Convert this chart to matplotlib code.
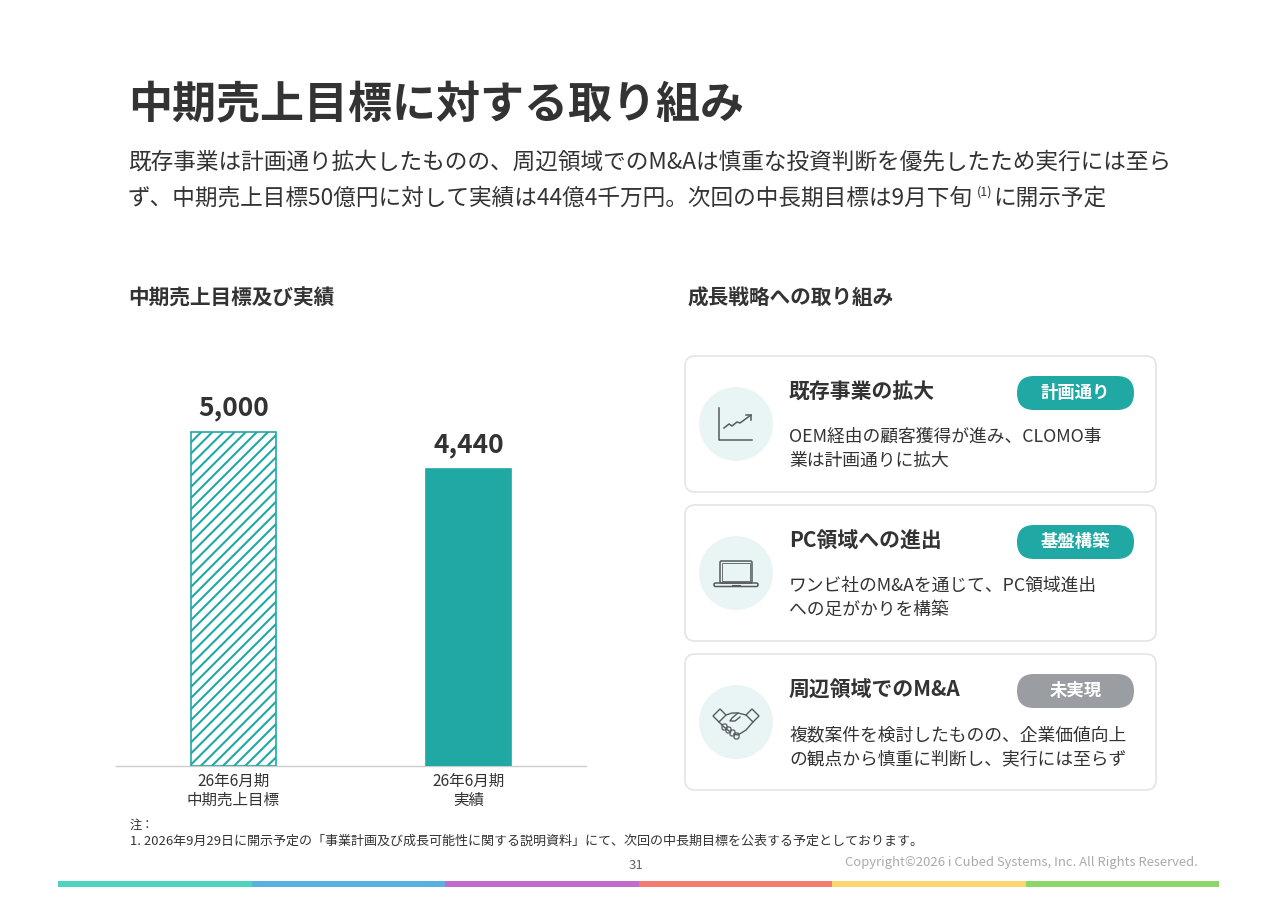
import matplotlib
matplotlib.use("Agg")
import matplotlib.pyplot as plt
from matplotlib.patches import FancyBboxPatch, Circle, Rectangle, Polygon

plt.rcParams['font.family'] = ['Noto Sans CJK JP', 'DejaVu Sans']
plt.rcParams['hatch.linewidth'] = 1.5

# ---------------- data ----------------
title = "中期売上目標に対する取り組み"
subtitle_l1 = "既存事業は計画通り拡大したものの、周辺領域でのM&Aは慎重な投資判断を優先したため実行には至ら"
subtitle_l2a = "ず、中期売上目標50億円に対して実績は44億4千万円。次回の中長期目標は9月下旬"
subtitle_sup = "(1)"
subtitle_l2b = "に開示予定"
left_header = "中期売上目標及び実績"
right_header = "成長戦略への取り組み"

categories = ["26年6月期\n中期売上目標", "26年6月期\n実績"]
values = [5000, 4440]

card_titles = ["既存事業の拡大", "PC領域への進出", "周辺領域でのM&A"]
card_badges = ["計画通り", "基盤構築", "未実現"]
card_texts = [
    ["OEM経由の顧客獲得が進み、CLOMO事", "業は計画通りに拡大"],
    ["ワンビ社のM&Aを通じて、PC領域進出", "への足がかりを構築"],
    ["複数案件を検討したものの、企業価値向上", "の観点から慎重に判断し、実行には至らず"],
]
note_head = "注："
note_line = "1. 2026年9月29日に開示予定の「事業計画及び成長可能性に関する説明資料」にて、次回の中長期目標を公表する予定としております。"
page_no = "31"
copyright_txt = "Copyright©2026 i Cubed Systems, Inc. All Rights Reserved."
stripe_colors = ["#4dd4c0", "#5ab0e0", "#c26bc8", "#f47a70", "#f9d76e", "#8cd66a"]

TEAL = "#20a8a4"
GRAY_BADGE = "#9a9ea3"
DARK = "#333333"

plt.rcParams['hatch.color'] = TEAL

fig = plt.figure(figsize=(12.8, 9.05), dpi=100)
fig.patch.set_facecolor("white")

bg = fig.add_axes([0, 0, 1, 1])
bg.set_xlim(0, 1280)
bg.set_ylim(905, 0)
bg.axis("off")

# title & subtitle
bg.text(128, 105, title, fontsize=31.7, fontweight="bold", color=DARK, va="center", ha="left")
bg.text(128, 162, subtitle_l1, fontsize=16.3, color=DARK, va="center", ha="left")
t2a = bg.text(128, 198, subtitle_l2a, fontsize=16.3, color=DARK, va="center", ha="left")
fig.canvas.draw()
r = fig.canvas.get_renderer()
x_end = t2a.get_window_extent(r).x1
tsup = bg.text(x_end + 4, 192, subtitle_sup, fontsize=9, color=DARK, va="center", ha="left")
fig.canvas.draw()
x_end2 = tsup.get_window_extent(r).x1
bg.text(x_end2 + 1, 198, subtitle_l2b, fontsize=16.3, color=DARK, va="center", ha="left")

# section headers
bg.text(128, 298, left_header, fontsize=14.9, fontweight="bold", color=DARK, va="center", ha="left")
bg.text(688, 298, right_header, fontsize=14.9, fontweight="bold", color=DARK, va="center", ha="left")

# ---------------- bar chart ----------------
ax = fig.add_axes([116 / 1280, (905 - 766) / 905, 470 / 1280, 400.8 / 905])
ax.set_xlim(-0.5, 1.5)
ax.set_ylim(0, 6000)
xpos = list(range(len(values)))
bars = ax.bar(xpos, values, width=0.362, color=["white", TEAL], edgecolor=TEAL,
              linewidth=1.2, zorder=3)
bars[0].set_hatch("///")
for xp, v in zip(xpos, values):
    ax.annotate(f"{v:,}", xy=(xp, v), xytext=(0, 17.5), textcoords="offset points",
                ha="center", va="center", fontsize=19, fontweight="bold", color=DARK)
ax.set_xticks(xpos)
ax.set_xticklabels(categories, fontsize=11.2, color=DARK, linespacing=1.15)
ax.tick_params(axis="x", length=0, pad=5)
ax.set_yticks([])
for s in ["top", "left", "right"]:
    ax.spines[s].set_visible(False)
ax.spines["bottom"].set_color("#cccccc")
ax.spines["bottom"].set_linewidth(1.0)
ax.patch.set_alpha(0)

# ---------------- cards ----------------
card_tops = [356, 505, 654]
card_h = 136
ICON = "#555a5e"
for i, top in enumerate(card_tops):
    card = FancyBboxPatch((685, top), 471, card_h,
                          boxstyle="round,pad=0,rounding_size=10",
                          facecolor="white", edgecolor="#e2e4e6", linewidth=1.2)
    bg.add_patch(card)
    cx, cy = 736, top + 68
    bg.add_patch(Circle((cx, cy), 37, facecolor="#e9f5f5", edgecolor="none"))
    bg.text(789, top + 36, card_titles[i], fontsize=15, fontweight="bold", color=DARK,
            va="center", ha="left")
    bcol = TEAL if i < 2 else GRAY_BADGE
    badge = FancyBboxPatch((1017, top + 20), 117, 34,
                           boxstyle="round,pad=0,rounding_size=17",
                           facecolor=bcol, edgecolor="none")
    bg.add_patch(badge)
    bg.text(1075.5, top + 37, card_badges[i], fontsize=12.5, fontweight="bold", color="white",
            va="center", ha="center")
    for j, line in enumerate(card_texts[i]):
        bg.text(789, top + 81 + 24 * j, line, fontsize=12.8, color=DARK, va="center", ha="left")

    # icons
    if i == 0:
        bg.plot([cx - 17, cx - 17, cx + 16], [cy - 16, cy + 16, cy + 16], color=ICON, lw=1.1)
        zx = [cx - 12, cx - 7, cx - 4, cx + 1, cx + 4, cx + 15]
        zy = [cy + 4, cy, cy + 2, cy - 2, cy - 1, cy - 9]
        bg.plot(zx, zy, color=ICON, lw=1.1)
        bg.plot([cx + 10, cx + 15, cx + 15], [cy - 9, cy - 9, cy - 4], color=ICON, lw=1.1)
    elif i == 1:
        bg.add_patch(FancyBboxPatch((cx - 16, cy - 12), 32, 22,
                                    boxstyle="round,pad=0,rounding_size=1.5",
                                    facecolor="none", edgecolor=ICON, lw=1.1))
        bg.add_patch(Rectangle((cx - 14, cy - 10), 28, 18, facecolor="none", edgecolor=ICON, lw=0.6))
        bg.add_patch(FancyBboxPatch((cx - 22, cy + 10), 44, 3.5,
                                    boxstyle="round,pad=0,rounding_size=1.5",
                                    facecolor="none", edgecolor=ICON, lw=1.1))
        bg.plot([cx - 4, cx + 4], [cy + 11.5, cy + 11.5], color=ICON, lw=0.8)
    else:
        # simplified handshake
        bg.add_patch(Polygon([(cx - 23, cy - 6), (cx - 16, cy - 13), (cx - 10, cy - 7), (cx - 17, cy)],
                             closed=True, facecolor="none", edgecolor=ICON, lw=1.0))
        bg.add_patch(Polygon([(cx + 23, cy - 6), (cx + 16, cy - 13), (cx + 10, cy - 7), (cx + 17, cy)],
                             closed=True, facecolor="none", edgecolor=ICON, lw=1.0))
        bg.plot([cx - 10, cx - 4, cx + 2, cx + 10], [cy - 7, cy - 9, cy - 9, cy - 7], color=ICON, lw=1.0)
        bg.plot([cx + 2, cx - 4, cx - 6, cx - 1, cx + 4], [cy - 9, cy - 4, cy - 1, cy - 1, cy - 5],
                color=ICON, lw=1.0)
        bg.plot([cx + 17, cx + 10, cx + 2, cx - 2], [cy, cy + 8, cy + 13, cy + 12], color=ICON, lw=1.0)
        bg.plot([cx - 17, cx - 12, cx - 7], [cy, cy + 5, cy + 9], color=ICON, lw=1.0)
        for k in range(4):
            fx = cx - 12 + 4 * k
            fy = cy + 2 + 3 * k
            bg.add_patch(FancyBboxPatch((fx - 2, fy), 5, 6,
                                        boxstyle="round,pad=0,rounding_size=2",
                                        facecolor="none", edgecolor=ICON, lw=0.9))

# ---------------- footer ----------------
bg.text(130, 825, note_head, fontsize=8.8, color=DARK, va="center", ha="left")
bg.text(130, 841, note_line, fontsize=9.4, color=DARK, va="center", ha="left")
bg.text(636, 865, page_no, fontsize=9.5, color="#666666", va="center", ha="center")
bg.text(1198, 862, copyright_txt, fontsize=9.4, color="#aaaaaa", va="center", ha="right")

x0, x1 = 58, 1219
seg = (x1 - x0) / len(stripe_colors)
for k, c in enumerate(stripe_colors):
    bg.add_patch(Rectangle((x0 + k * seg, 881), seg, 6, facecolor=c, edgecolor="none"))

fig.savefig("out.png", dpi=100, facecolor="white")
